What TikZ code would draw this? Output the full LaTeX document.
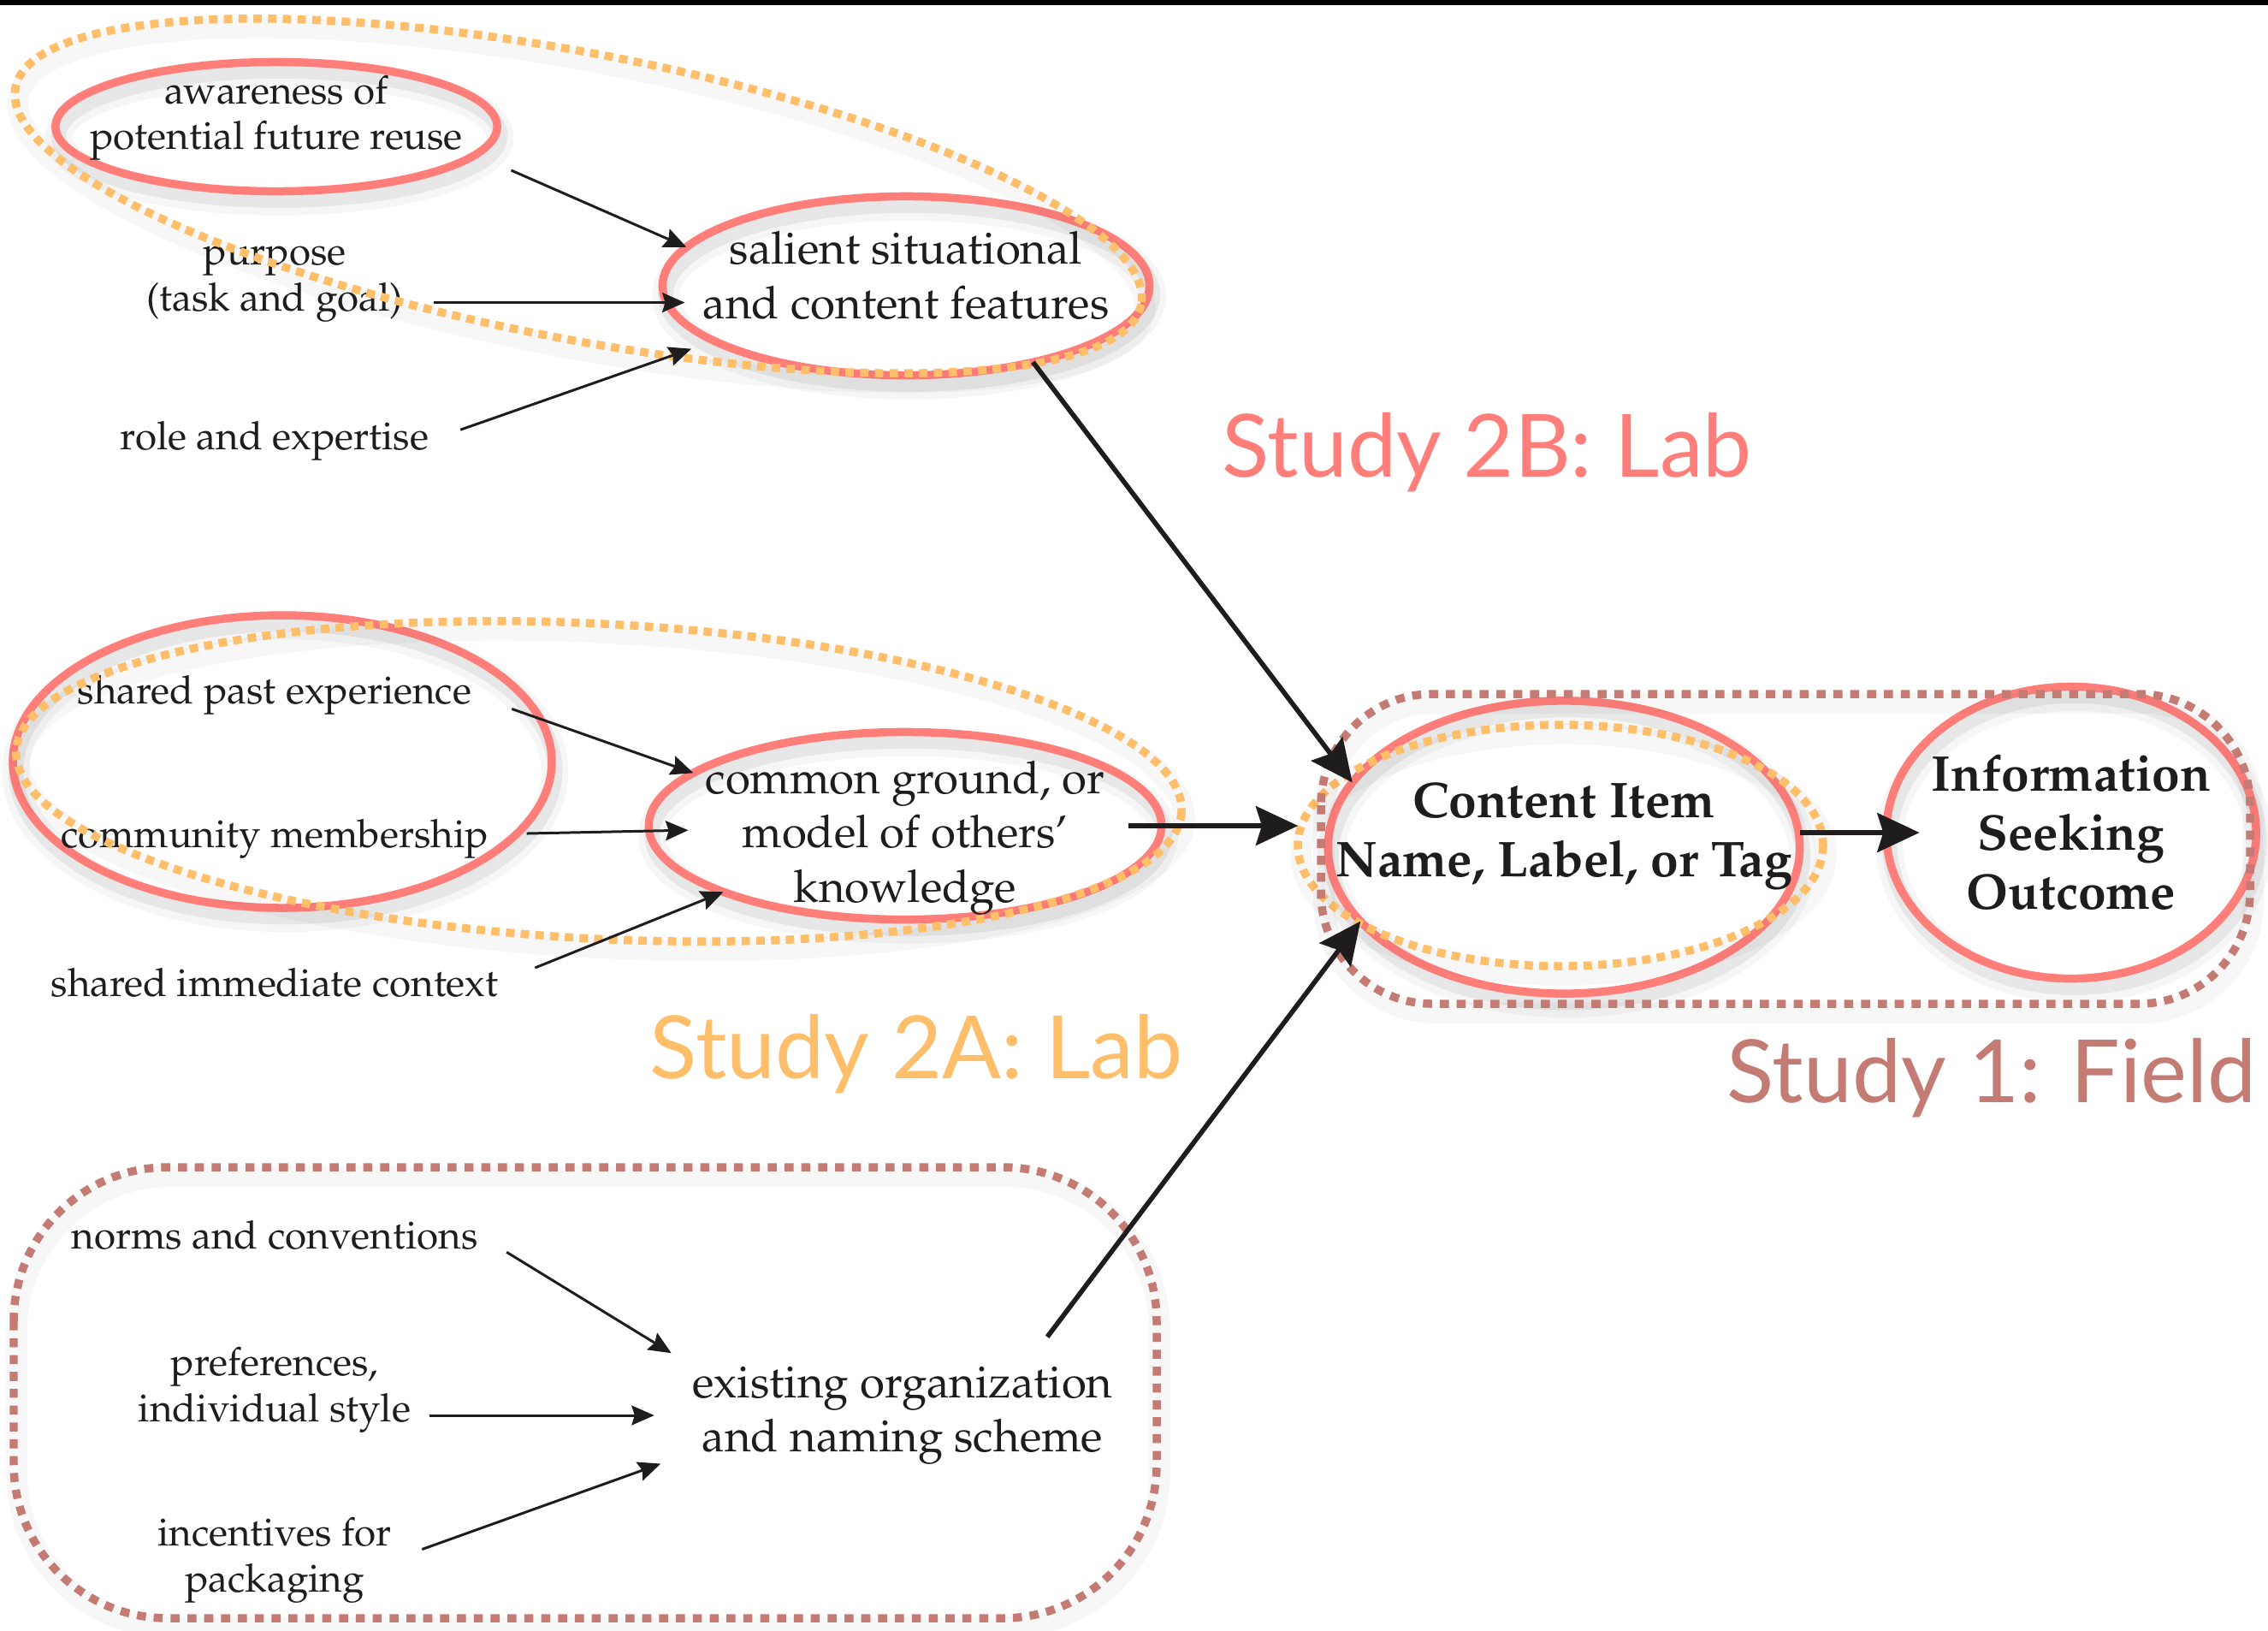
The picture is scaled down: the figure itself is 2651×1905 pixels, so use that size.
\documentclass[tikz,border=0pt]{standalone}
\usepackage[T1]{fontenc}
\usepackage{fontspec}
\newfontfamily\studyfont{Lato}
\newcommand\palfont{\fontencoding{T1}\fontfamily{ppl}\selectfont}
\usetikzlibrary{arrows.meta,shapes.geometric}
\definecolor{ringpink}{RGB}{255,126,122}
\definecolor{dotorange}{RGB}{255,190,105}
\definecolor{dotrose}{RGB}{196,123,116}
\definecolor{inkblack}{RGB}{30,28,28}

\begin{document}
\begin{tikzpicture}[x=0.01cm, y=-0.01cm,
      every node/.style={font=\palfont\fontsize{13}{15.3}\selectfont,
        text=inkblack, align=center, inner sep=0pt},
      ringline/.style={draw=ringpink, line width=2.7pt,
        preaction={draw=black, opacity=.035, line width=9pt,
          transform canvas={xshift=1pt, yshift=-3.5pt}},
        preaction={draw=black, opacity=.06, line width=5pt,
          transform canvas={xshift=1pt, yshift=-3pt}}},
      ring/.style={ringline, shape=ellipse, inner xsep=-8mm,
        inner ysep=-6mm, outer sep=0pt},
      bigtext/.style={font=\palfont\fontsize{15}{18}\selectfont},
      boldtext/.style={font=\palfont\bfseries\fontsize{16.7}{19.6}\selectfont},
      dotline/.style={line width=2.7pt, dash pattern=on 2.8pt off 2.1pt,
        preaction={draw=black, solid, opacity=.03, line width=7pt,
          transform canvas={xshift=1pt, yshift=-3pt}}},
      orangedots/.style={dotline, draw=dotorange},
      rosedots/.style={dotline, draw=dotrose, dash pattern=on 3pt off 2.6pt},
      arr/.style={draw=inkblack, line width=0.85pt,
        -{Stealth[length=7.5pt, width=6.5pt, inset=1pt]}},
      bigarr/.style={draw=inkblack, line width=1.6pt,
        -{Stealth[length=14pt, width=13pt, inset=2pt]}},
      studytext/.style={font=\studyfont\fontsize{29}{34}\selectfont}]

      \path[use as bounding box, fill=white] (0,0) rectangle (2651,1905);
      \fill[black] (0,0) rectangle (2651,6);

      \node[studytext, text=dotorange, anchor=base] (lab2a) at (1071,1260) {Study 2A: Lab};
      \node[studytext, text=ringpink, anchor=base] (lab2b) at (1738,557) {Study 2B: Lab};
      \node[studytext, text=dotrose, anchor=base east] (lab1) at (2638,1288) {Study 1: Field};

      \node[ring, minimum width=5.16cm, minimum height=1.51cm,
        label={[yshift=2.9pt]center:{awareness of\\potential future reuse}}] (aware) at (323,148) {};
      \node (purpose) at (321,332) {purpose\\(task and goal)};
      \node (role) at (321,515) {role and expertise};
      \node[ring, minimum width=5.69cm, minimum height=2.09cm,
        label={[bigtext, yshift=3.4pt]center:{salient situational\\and content features}}] (salient) at (1059,334) {};

      \draw[ringline] (330,890) ellipse [x radius=315, y radius=171];
      \node (past) at (321,812) {shared past experience};
      \node (community) at (321,980) {community membership};
      \node (immediate) at (321,1148) {shared immediate context};
      \node[ring, minimum width=5.99cm, minimum height=2.19cm,
        label={[bigtext, yshift=-4pt]center:{common ground, or\\model of others'\\knowledge}}] (common) at (1058,965) {};

      \node (norms) at (321,1443) {norms and conventions};
      \node (prefs) at (321,1624) {preferences,\\individual style};
      \node (incent) at (321,1823) {incentives for\\packaging};
      \node[bigtext] (existing) at (1055,1654) {existing organization\\and naming scheme};

      \node[ring, minimum width=5.51cm, minimum height=3.42cm,
        label={[boldtext, yshift=3.8pt]center:{Content Item\\Name, Label, or Tag}}] (content) at (1828,990) {};
      \node[ring, minimum width=4.32cm, minimum height=3.41cm,
        label={[boldtext]center:{Information\\Seeking\\Outcome}}] (outcome) at (2421,973) {};

      \draw[orangedots, rotate around={-10.9:(676,229)}] (676,229) ellipse [x radius=670, y radius=167];
      \draw[orangedots, rotate around={-3:(700,913)}] (700,913) ellipse [x radius=682, y radius=184];
      \draw[orangedots] (1824,988) ellipse [x radius=307, y radius=141];
      \draw[rosedots, rounded corners=1.8cm] (16,1364) rectangle (1352,1891);
      \draw[rosedots, rounded corners=1.3cm] (1544,811) rectangle (2630,1173);

      \draw[arr, shorten <=13pt] (aware.-8) -- (salient.170);
      \draw[arr, shorten <=10pt, shorten >=-6pt] (purpose.east |- salient.184) -- (salient.184);
      \draw[arr, shorten <=11pt, shorten >=8pt] (role.east) -- (salient.196);
      \draw[arr, shorten <=14pt] (past.east) -- (common.166);
      \draw[arr, shorten <=12.5pt, shorten >=-13pt] (community) -- (common);
      \draw[arr, shorten <=13pt] (immediate.east) -- (common.200);
      \draw[arr, shorten <=11pt, shorten >=8pt] (norms.east) -- (existing.north west);
      \draw[arr, shorten <=6pt, shorten >=12.5pt] (prefs.east |- existing.west) -- (existing.west);
      \draw[arr, shorten <=10.5pt, shorten >=11pt] (incent.east) -- (existing.190);

      \draw[bigarr] (salient.-31) -- (content.163);
      \draw[bigarr, shorten <=-11pt, shorten >=10pt] (common.east) -- (common.east -| content.west);
      \draw[bigarr, shorten <=12pt] (existing.22) -- (content.200);
      \draw[bigarr, shorten >=-11pt] (content.east |- outcome.west) -- (outcome.west);
\end{tikzpicture}
\end{document}
